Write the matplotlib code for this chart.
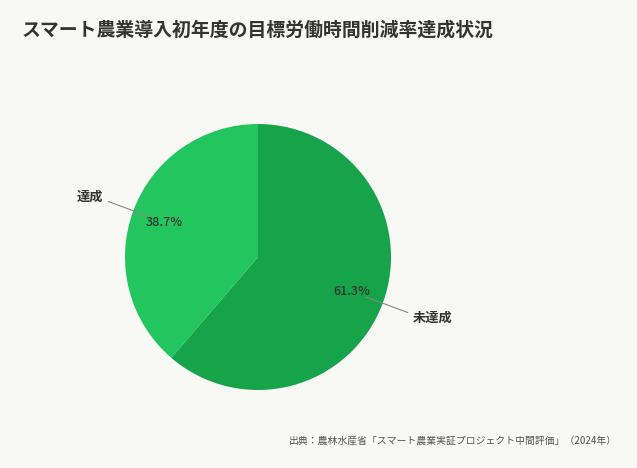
import numpy as np
import matplotlib
matplotlib.use('Agg')
import matplotlib.pyplot as plt

plt.rcParams['font.family'] = ['Noto Sans CJK JP', 'DejaVu Sans']

labels = ['未達成', '達成']
values = [61.3, 38.7]
colors = ['#16a34a', '#22c55e']
title = 'スマート農業導入初年度の目標労働時間削減率達成状況'
source = '出典：農林水産省「スマート農業実証プロジェクト中間評価」（2024年）'

bg = '#f8f8f4'
fig = plt.figure(figsize=(6.37, 4.68), dpi=100, facecolor=bg)
ax = fig.add_axes([125/637, 78/468, 266/637, 266/468])
ax.set_facecolor(bg)

wedges, _ = ax.pie(values, colors=colors, startangle=90, counterclock=False,
                   wedgeprops=dict(linewidth=0))
ax.set_xlim(-1, 1)
ax.set_ylim(-1, 1)
ax.set_aspect('equal')
ax.axis('off')

for w, lab, v in zip(wedges, labels, values):
    ang = np.deg2rad((w.theta1 + w.theta2) / 2)
    c, s = np.cos(ang), np.sin(ang)
    ax.plot([0.87*c, 1.2*c], [0.87*s, 1.2*s], color='#888888', lw=0.8, clip_on=False)
    ax.text(0.75*c, 0.75*s, '%.1f%%' % v, ha='center', va='center',
            fontsize=9, color='#333333', fontweight='medium')
    side = 1 if c > 0 else -1
    ax.annotate(lab, (1.2*c, 1.2*s), xytext=(5*side, 5*np.sign(s)),
                textcoords='offset pixels', ha='left' if side > 0 else 'right',
                va='center', fontsize=9.5, color='#333333', fontweight='bold',
                annotation_clip=False)

fig.text(22/637, 1 - 30/468, title, fontsize=13.6, fontweight='bold',
         color='#333333', ha='left', va='center')
fig.text(617/637, 1 - 441/468, source, fontsize=7.1, color='#555555',
         ha='right', va='center')

fig.savefig('out.png', dpi=100, facecolor=bg)
